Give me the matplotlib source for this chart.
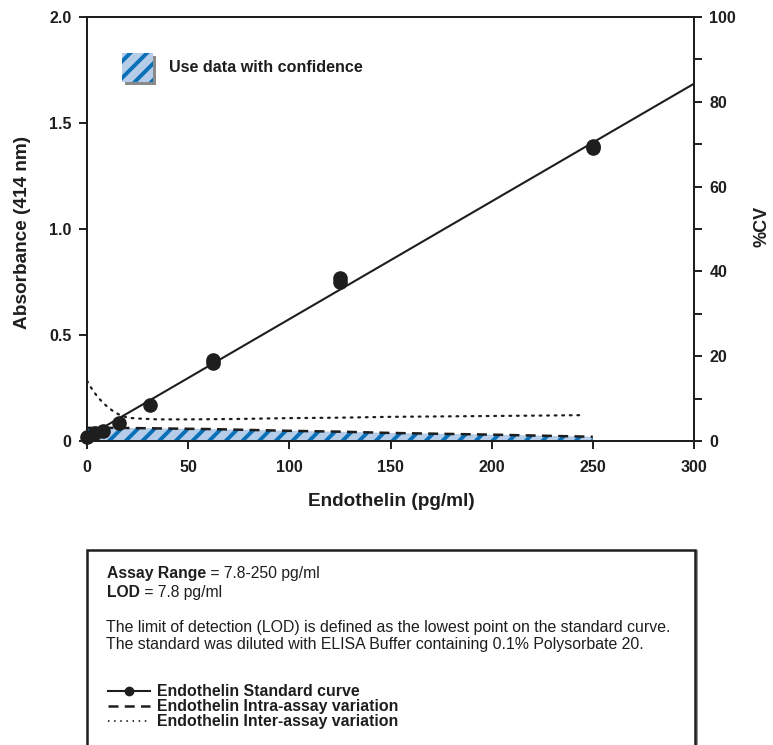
import numpy as np
import matplotlib
matplotlib.use("Agg")
import matplotlib.pyplot as plt
from matplotlib.patches import Rectangle
from matplotlib.lines import Line2D

plt.rcParams['font.family'] = ['Liberation Sans', 'DejaVu Sans']
plt.rcParams['hatch.linewidth'] = 2.8

# standard curve points (pg/ml, absorbance at 414 nm)
conc = [0, 3.9, 7.8, 15.6, 31.25, 62.5, 62.5, 125, 125, 250, 250]
absorbance = [0.02, 0.038, 0.047, 0.085, 0.17, 0.38, 0.37, 0.77, 0.75, 1.39, 1.38]

# %CV curves
inter_x = [0, 2, 4, 6, 8, 10, 13, 16, 20, 25, 35, 50, 75, 100, 125, 150, 175, 200, 225, 245]
inter_cv = [14.2, 12.6, 11.2, 10.0, 9.0, 8.1, 7.0, 6.2, 5.5, 5.3, 5.1, 5.1, 5.2, 5.4, 5.5, 5.7, 5.8, 5.9, 6.0, 6.1]
intra_x = [0, 8, 15, 31, 62.5, 100, 125, 150, 200, 250]
intra_cv = [3.1, 3.1, 3.1, 3.0, 2.8, 2.4, 2.2, 1.9, 1.5, 1.0]

x_ticks = [0, 50, 100, 150, 200, 250, 300]
y_ticks = [0, 0.5, 1.0, 1.5, 2.0]
y_labels = ['0', '0.5', '1.0', '1.5', '2.0']
cv_ticks = [0, 20, 40, 60, 80, 100]

ink = '#1e1e1e'
blue = '#0a70b8'
light_blue = '#b5cde9'
W, H = 773, 745

fig = plt.figure(figsize=(W / 100, H / 100), dpi=100)
ax = fig.add_axes([87 / W, 1 - 441 / H, 607 / W, 424 / H])
ax2 = ax.twinx()

# %CV on the right axis, drawn underneath the standard curve
ax2.fill_between(intra_x, 0, intra_cv, facecolor=light_blue, edgecolor=blue,
                 hatch='//', linewidth=0)
ax2.plot(intra_x, intra_cv, color=ink, lw=1.8, linestyle=(0, (4, 2.5)))
ax2.plot(inter_x, inter_cv, color=ink, lw=1.6, linestyle=(0, (0.8, 2.6)),
         dash_capstyle='round')
ax2.set_ylim(0, 100)
ax2.set_yticks(cv_ticks)
ax2.set_yticks(range(10, 100, 20), minor=True)

# standard curve with linear fit
slope, intercept = np.polyfit(conc, absorbance, 1)
fit_x = np.array([0, 300])
ax.plot(fit_x, slope * fit_x + intercept, color=ink, lw=1.5, zorder=3)
ax.plot(conc, absorbance, 'o', color=ink, ms=9.5, zorder=4, clip_on=False)
ax.set_zorder(ax2.get_zorder() + 1)
ax.patch.set_visible(False)

ax.set_xlim(0, 300)
ax.set_ylim(0, 2.0)
ax.set_xticks(x_ticks)
ax.set_yticks(y_ticks)
ax.set_yticklabels(y_labels)

for a in (ax, ax2):
    for s in a.spines.values():
        s.set_linewidth(1.4)
        s.set_color(ink)
    a.tick_params(which='both', direction='out', length=6, width=1.4,
                  labelsize=11.5, colors=ink)
    for lbl in a.get_xticklabels() + a.get_yticklabels():
        lbl.set_fontweight('bold')
ax.tick_params(axis='x', pad=8)
ax.tick_params(axis='y', pad=5)
ax2.tick_params(axis='y', which='both', pad=5)

fig.text(391 / W, 1 - 501 / H, 'Endothelin (pg/ml)', ha='center', va='center',
         fontsize=13.7, fontweight='bold', color=ink)
fig.text(23 / W, 1 - 232 / H, 'Absorbance (414 nm)', ha='center', va='center',
         rotation=90, fontsize=13.7, fontweight='bold', color=ink)
fig.text(762 / W, 1 - 226 / H, '%CV', ha='center', va='center',
         rotation=90, fontsize=13, fontweight='bold', color=ink)

# "use data with confidence" key
ax.add_patch(Rectangle((0.0627, 0.8397), 0.051, 0.068, transform=ax.transAxes,
                       facecolor='#8a8a8a', edgecolor='none', zorder=5))
ax.add_patch(Rectangle((0.0577, 0.8467), 0.051, 0.068, transform=ax.transAxes,
                       facecolor=light_blue, edgecolor=blue, hatch='//',
                       linewidth=0, zorder=6))
ax.text(0.135, 0.88, 'Use data with confidence', transform=ax.transAxes,
        fontsize=11.6, fontweight='bold', va='center', color=ink)

# info box below the chart
box_top = 1 - 550 / H
fig.patches.append(Rectangle((90 / W, -0.05), 608 / W, box_top + 0.05,
                             transform=fig.transFigure, facecolor='#999999',
                             edgecolor='none', zorder=0))
fig.patches.append(Rectangle((87 / W, -0.05), 608 / W, box_top + 0.05,
                             transform=fig.transFigure, facecolor='white',
                             edgecolor=ink, linewidth=1.8, zorder=1))

fig.canvas.draw()
renderer = fig.canvas.get_renderer()


def mixed_line(y, bold, rest):
    t = fig.text(107 / W, 1 - y / H, bold, fontsize=11.3, fontweight='bold',
                 va='center_baseline', color=ink)
    bb = t.get_window_extent(renderer)
    fig.text(bb.x1 / fig.bbox.width, 1 - y / H, rest, fontsize=11.3,
             va='center_baseline', color=ink)


mixed_line(572, 'Assay Range', ' = 7.8-250 pg/ml')
mixed_line(591, 'LOD', ' = 7.8 pg/ml')
fig.text(106 / W, 1 - 626 / H,
         'The limit of detection (LOD) is defined as the lowest point on the standard curve.',
         fontsize=11.4, va='center_baseline', color=ink)
fig.text(106 / W, 1 - 643 / H,
         'The standard was diluted with ELISA Buffer containing 0.1% Polysorbate 20.',
         fontsize=11.4, va='center_baseline', color=ink)

# key for the three series
key_rows = [690, 705, 720]
key_labels = ['Endothelin Standard curve', 'Endothelin Intra-assay variation',
              'Endothelin Inter-assay variation']
key_styles = [dict(lw=1.5, linestyle='-', marker='o', ms=6, markevery=[1]),
              dict(lw=1.8, linestyle=(0, (4, 2.5))),
              dict(lw=1.3, linestyle=(0, (0.8, 2.6)))]
for y, lab, st in zip(key_rows, key_labels, key_styles):
    yf = 1 - (y + 1) / H
    fig.add_artist(Line2D([108 / W, 129 / W, 150 / W], [yf, yf, yf],
                          transform=fig.transFigure, color=ink, **st))
    fig.text(157 / W, 1 - y / H, lab, fontsize=11.4, fontweight='bold',
             va='center_baseline', color=ink)

fig.savefig('out.png', dpi=100)
